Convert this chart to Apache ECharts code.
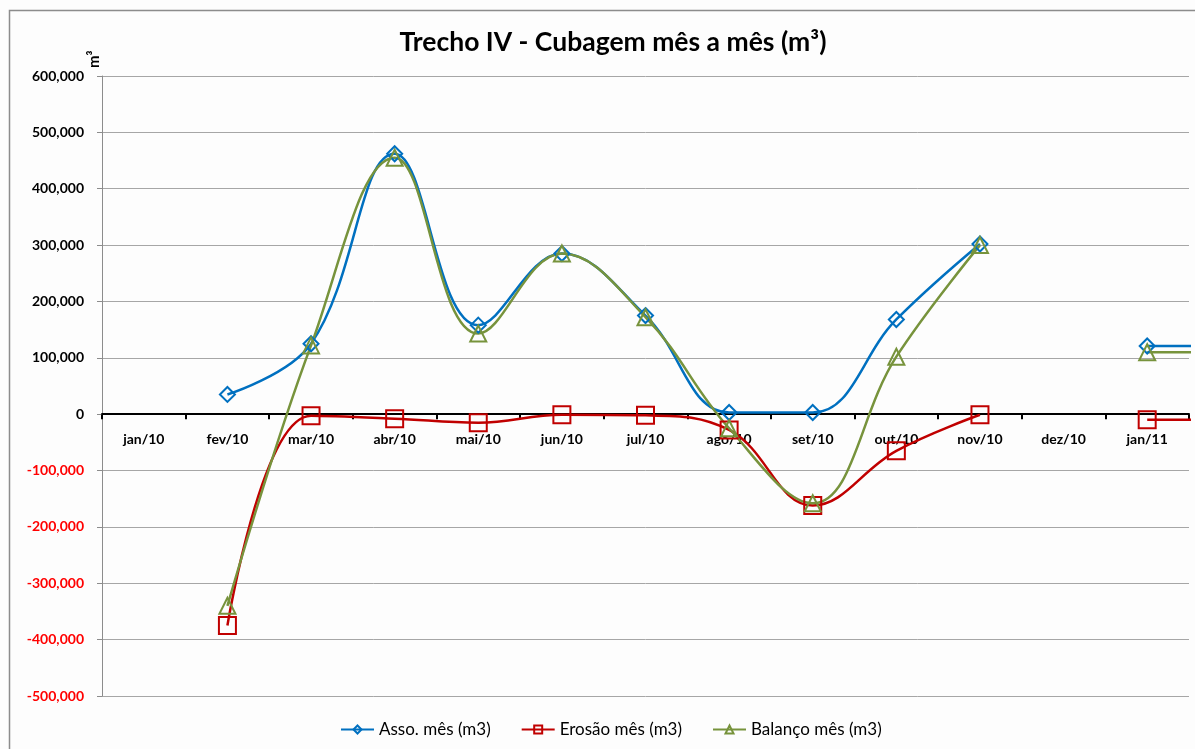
<!DOCTYPE html>
<html><head><meta charset="utf-8">
<script src="https://cdn.jsdelivr.net/npm/echarts@6/dist/echarts.min.js"></script>
<style>html,body{margin:0;padding:0;background:#fff}#c{width:1195px;height:749px}</style>
</head><body><div id="c"></div>
<script>
const categories = ['jan/10','fev/10','mar/10','abr/10','mai/10','jun/10','jul/10','ago/10','set/10','out/10','nov/10','dez/10','jan/11','fev/11'];
const asso    = [null, 35000, 125000, 462000, 158000, 285000, 175000, 3000, 3000, 168000, 302000, null, 121000, 121000];
const erosao  = [null, -375000, -3000, -8000, -15000, -1000, -2000, -28000, -162000, -65000, -1000, null, -10000, -10000];
const balanco = [null, -340000, 122000, 455000, 143000, 285000, 172000, -25000, -158000, 102000, 300000, null, 110000, 110000];
const yTicks = {min: -500000, max: 600000, interval: 100000};
const FONT = 'Lato, "Open Sans", sans-serif';

const GRID_TOP = 76, GRID_BOTTOM = 53, H = 749;
const plotH = H - GRID_TOP - GRID_BOTTOM;
const zeroOffset = -plotH * (0 - yTicks.min) / (yTicks.max - yTicks.min);

const chart = echarts.init(document.getElementById('c'), null, {renderer: 'canvas'});
function mk(name, data, color, symbol, size) {
  return {
    name, type: 'line', data, smooth: 0.4, connectNulls: false, clip: true,
    symbol, symbolSize: size, showAllSymbol: true,
    color: color,
    lineStyle: {color, width: 2.5},
    itemStyle: {color: 'rgba(255,255,255,0)', borderColor: color, borderWidth: 2},
    emphasis: {disabled: true}
  };
}
chart.setOption({
  animation: false,
  backgroundColor: '#fdfdfd',
  graphic: [{type: 'rect', shape: {x: 9.5, y: 10.5, width: 1300, height: 900}, style: {fill: 'none', stroke: '#8c8c8c', lineWidth: 1.5}, silent: true}],
  title: {text: 'Trecho IV - Cubagem mês a mês (m³)', left: 608, textAlign: 'center', top: 24,
    textStyle: {fontFamily: FONT, fontSize: 26.5, fontWeight: 'bold', color: '#000'}},
  legend: {bottom: 6, left: 335, itemGap: 30, itemWidth: 33, itemHeight: 10,
    textStyle: {fontFamily: FONT, fontSize: 17, color: '#000'},
    data: ['Asso. mês (m3)', 'Erosão mês (m3)', 'Balanço mês (m3)']},
  grid: {left: 102, right: 6, top: GRID_TOP, bottom: GRID_BOTTOM, containLabel: false},
  xAxis: {type: 'category', data: categories, max: 12, boundaryGap: true,
    offset: zeroOffset,
    axisLine: {onZero: false, lineStyle: {color: '#000', width: 2}},
    axisTick: {show: true, length: 5, lineStyle: {color: '#000', width: 2}},
    axisLabel: {fontFamily: FONT, fontSize: 14, fontWeight: 'bold', color: '#000', margin: 18, interval: 0},
    splitLine: {show: false}},
  yAxis: {type: 'value', min: yTicks.min, max: yTicks.max, interval: yTicks.interval,
    name: 'm³', nameLocation: 'end', nameRotate: 90, nameGap: 8,
    nameTextStyle: {fontFamily: FONT, fontSize: 15, fontWeight: 'bold', color: '#000', align: 'left', verticalAlign: 'bottom'},
    axisLine: {show: true, onZero: false, lineStyle: {color: '#8c8c8c', width: 1}},
    axisTick: {show: true, length: 5, lineStyle: {color: '#8c8c8c'}},
    axisLabel: {fontFamily: FONT, fontSize: 14, fontWeight: 'bold', margin: 18,
      color: v => (Number(v) < 0 ? '#ff0000' : '#000'),
      formatter: v => v.toLocaleString('en-US')},
    splitLine: {lineStyle: {color: '#a6a6a6', width: 1}}},
  series: [
    mk('Asso. mês (m3)', asso, '#0070c0', 'diamond', 15),
    mk('Erosão mês (m3)', erosao, '#c00000', 'rect', 17),
    mk('Balanço mês (m3)', balanco, '#77933c', 'triangle', 16)
  ]
});
</script></body></html>
